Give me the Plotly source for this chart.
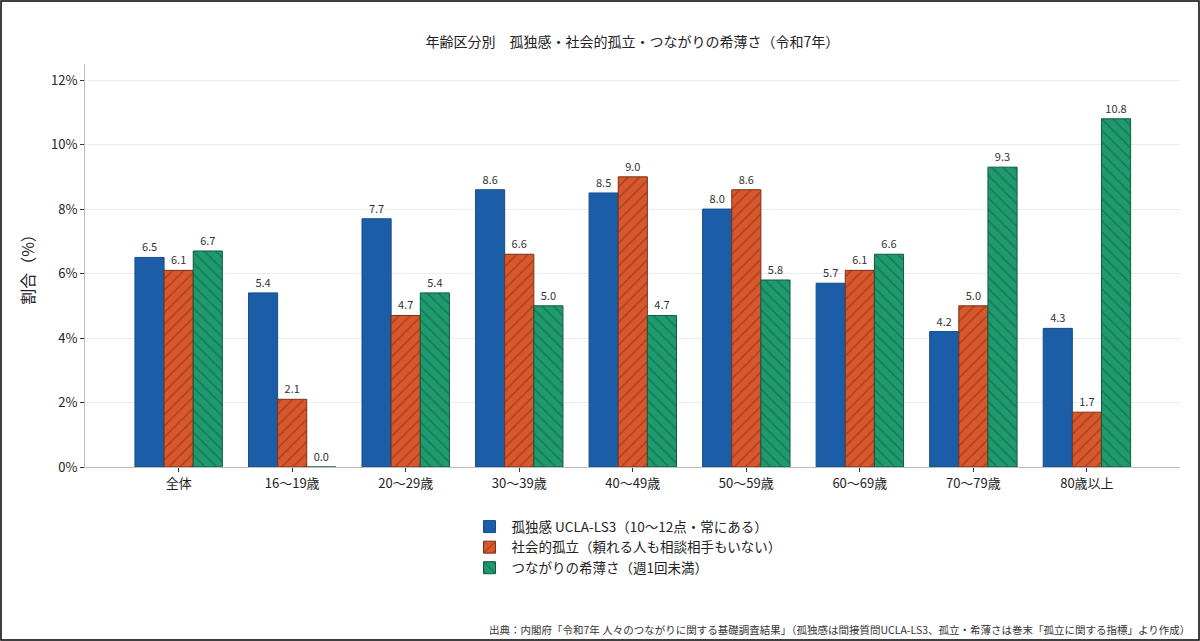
import plotly.graph_objects as go

categories = ["全体", "16〜19歳", "20〜29歳", "30〜39歳", "40〜49歳",
              "50〜59歳", "60〜69歳", "70〜79歳", "80歳以上"]
loneliness = [6.5, 5.4, 7.7, 8.6, 8.5, 8.0, 5.7, 4.2, 4.3]
isolation = [6.1, 2.1, 4.7, 6.6, 9.0, 8.6, 6.1, 5.0, 1.7]
weak_ties = [6.7, 0.0, 5.4, 5.0, 4.7, 5.8, 6.6, 9.3, 10.8]
y_ticks = [0, 2, 4, 6, 8, 10, 12]

series = [
    ("孤独感 UCLA-LS3（10〜12点・常にある）", loneliness, "#1b5ea7", "#154d8a", ""),
    ("社会的孤立（頼れる人も相談相手もいない）", isolation, "#d9572c", "#7a3016", "/"),
    ("つながりの希薄さ（週1回未満）", weak_ties, "#1e9a6e", "#0f5a3d", "\\"),
]

font = "Noto Sans CJK JP"
fig = go.Figure()
for name, vals, color, edge, shape in series:
    fig.add_trace(go.Bar(
        x=categories, y=vals, name=name,
        marker=dict(color=color, line=dict(color=edge, width=1),
                    pattern=dict(shape=shape, fgcolor=edge, bgcolor=color,
                                 size=8, solidity=0.2)),
        texttemplate="%{y:.1f}", textposition="outside",
        textfont=dict(size=11, color="#333333", family=font),
        cliponaxis=False,
    ))

L, R, T, B = 85, 20, 64, 174
W, H = 1200 - L - R, 641 - T - B

fig.update_layout(
    width=1200, height=641,
    margin=dict(l=L, r=R, t=T, b=B),
    plot_bgcolor="white", paper_bgcolor="white",
    font=dict(family=font, color="#222222", size=13),
    barmode="group", bargap=0.23, bargroupgap=0,
    title=dict(text="年齢区分別　孤独感・社会的孤立・つながりの希薄さ（令和7年）",
               x=0.527, xanchor="center", y=0.935, yanchor="middle",
               font=dict(size=14, family=font, color="#222222")),
    legend=dict(orientation="v", x=0.495, xanchor="center", y=-0.11, yanchor="top",
                font=dict(size=13.5, family=font, color="#222222"),
                tracegroupgap=0, itemwidth=34),
    showlegend=True,
)
fig.update_xaxes(
    range=[-0.825, 8.82], showline=True, linecolor="#bdbdbd", linewidth=1,
    ticks="outside", ticklen=4, tickcolor="#333333", showgrid=False,
    tickfont=dict(size=13, family=font, color="#222222"),
)
fig.update_yaxes(
    range=[0, 12.5], tickvals=y_ticks, ticktext=[f"{v}%" for v in y_ticks],
    showline=True, linecolor="#bdbdbd", linewidth=1,
    ticks="outside", ticklen=4, tickcolor="#333333",
    showgrid=True, gridcolor="#ebebeb", gridwidth=1, zeroline=False,
    tickfont=dict(size=13, family=font, color="#222222"),
    title=dict(text="割合（%）", font=dict(size=16, family=font, color="#222222"), standoff=12),
)

fig.add_annotation(
    text="出典：内閣府「令和7年 人々のつながりに関する基礎調査結果」（孤独感は間接質問UCLA-LS3、孤立・希薄さは巻末「孤立に関する指標」より作成）",
    xref="paper", yref="paper", x=1 + 12 / W, y=-(B - 2) / H,
    xanchor="right", yanchor="bottom", showarrow=False,
    font=dict(size=10.5, family=font, color="#333333"),
)
fig.add_shape(type="rect", xref="paper", yref="paper",
              x0=-(L - 1) / W, x1=1 + (R - 1) / W, y0=-(B - 1) / H, y1=1 + (T - 1) / H,
              line=dict(color="black", width=1.5), fillcolor="rgba(0,0,0,0)", layer="above")

fig.write_html("out.html", config={"displayModeBar": False},
               post_script="document.body.style.margin='0';")
